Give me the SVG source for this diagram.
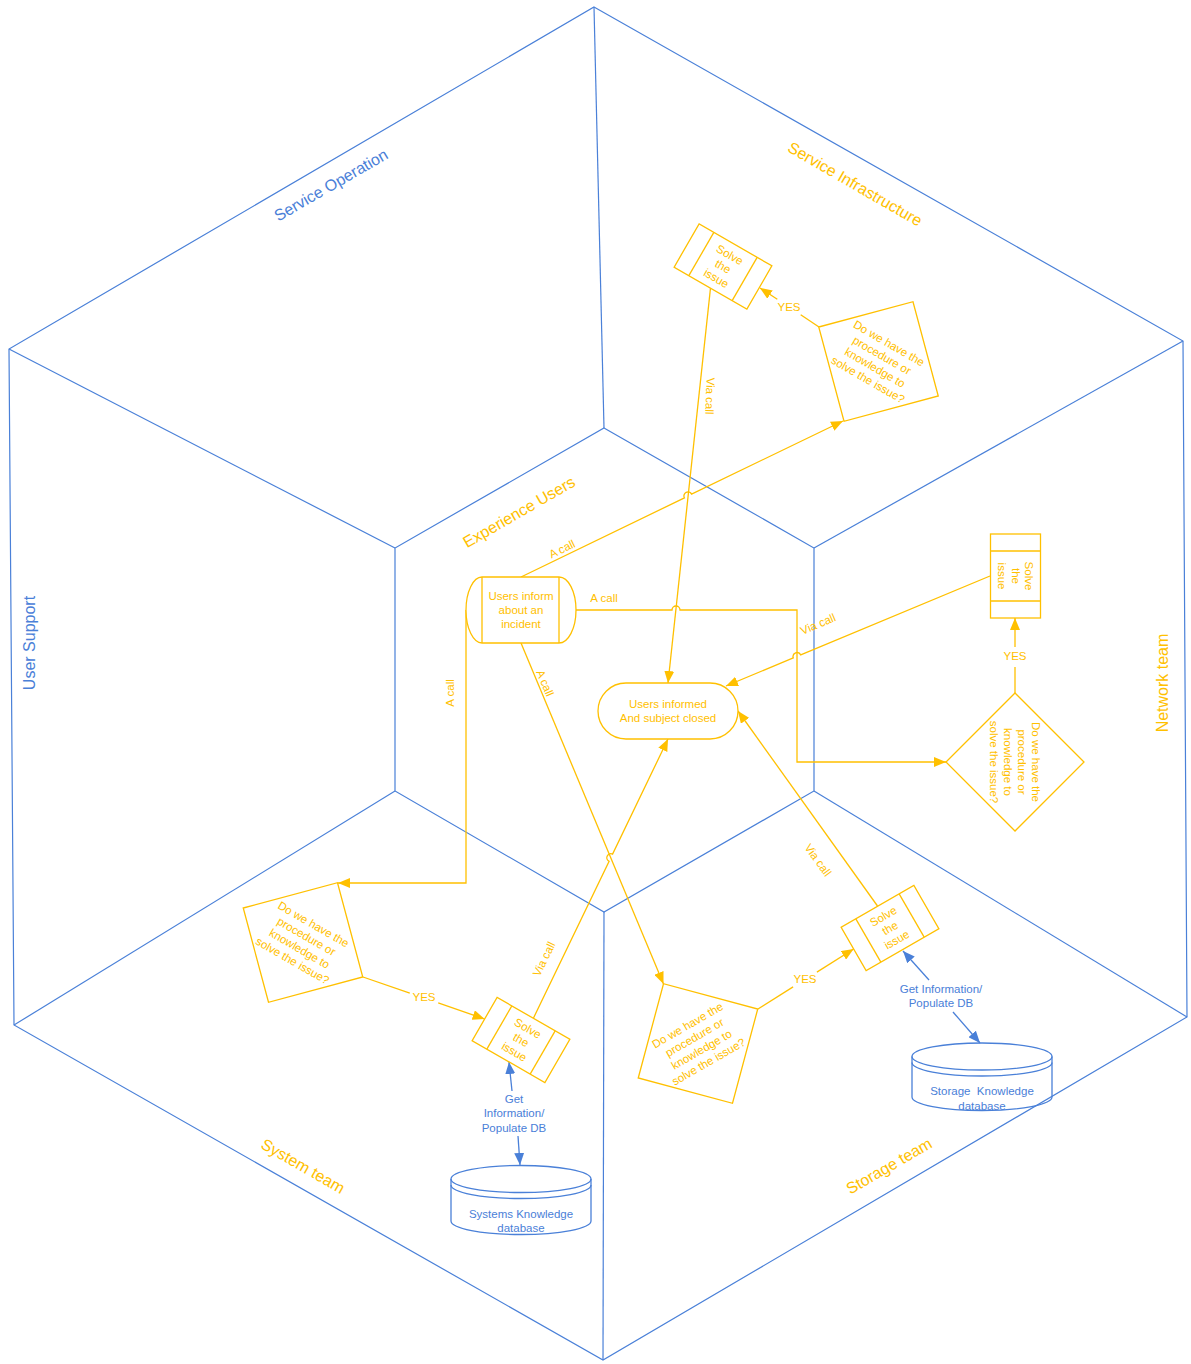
<svg xmlns="http://www.w3.org/2000/svg" width="1191" height="1364" viewBox="0 0 1191 1364">
  <style>
    .hex { fill: none; stroke: #4A80D8; stroke-width: 1.2; }
    .o { fill: none; stroke: #FFC000; stroke-width: 1.3; }
    .b { fill: none; stroke: #4A80D8; stroke-width: 1.3; }
    .shape { fill: #FFFFFF; stroke: #FFC000; stroke-width: 1.3; }
    .db { fill: none; stroke: #4A80D8; stroke-width: 1.3; }
    text { font-family: "Liberation Sans", Arial, sans-serif; text-anchor: middle; }
    .t { font-size: 11.5px; fill: #FFC000; }
    .tb { font-size: 11.5px; fill: #4A80D8; }
    .big { font-size: 16px; fill: #FFC000; }
    .bigb { font-size: 16px; fill: #4A80D8; }
  </style>
  <defs>
    <marker id="arrO" markerUnits="userSpaceOnUse" markerWidth="12" markerHeight="10" refX="12" refY="5" orient="auto">
      <path d="M0,0 L12,5 L0,10 Z" fill="#FFC000"/>
    </marker>
    <marker id="arrB" markerUnits="userSpaceOnUse" markerWidth="12" markerHeight="10" refX="12" refY="5" orient="auto">
      <path d="M0,0 L12,5 L0,10 Z" fill="#4A80D8"/>
    </marker>
    <!-- process box: two side bars -->
    <g id="solve">
      <rect x="-42" y="-25" width="84" height="50" class="shape"/>
      <line x1="-25" y1="-25" x2="-25" y2="25" class="o"/>
      <line x1="25" y1="-25" x2="25" y2="25" class="o"/>
    </g>
    <polygon id="dec" points="-69,0 0,-69 69,0 0,69" class="shape"/>
  </defs>

  <!-- hexagonal frame -->
  <g id="frame">
    <polygon class="hex" points="594,7 1183,341 1187,1017 603,1360 14,1025 9,349"/>
    <polygon class="hex" points="604,428 814,548 814,791 604,912 395,791 395,548"/>
    <line class="hex" x1="594" y1="7" x2="604" y2="428"/>
    <line class="hex" x1="1183" y1="341" x2="814" y2="548"/>
    <line class="hex" x1="1187" y1="1017" x2="814" y2="791"/>
    <line class="hex" x1="603" y1="1360" x2="604" y2="912"/>
    <line class="hex" x1="14" y1="1025" x2="395" y2="791"/>
    <line class="hex" x1="9" y1="349" x2="395" y2="548"/>
  </g>

  <!-- area titles -->
  <g id="titles">
    <text class="bigb" transform="translate(331,185) rotate(-30)" y="5.5">Service Operation</text>
    <text class="big" transform="translate(855,184) rotate(30)" y="5.5">Service Infrastructure</text>
    <text class="bigb" transform="translate(29,643) rotate(-90)" y="5.5">User Support</text>
    <text class="big" transform="translate(1162,683) rotate(-90)" y="5.5">Network team</text>
    <text class="big" transform="translate(519,512) rotate(-30)" y="5.5">Experience Users</text>
    <text class="big" transform="translate(303,1166) rotate(30)" y="5.5">System team</text>
    <text class="big" transform="translate(889,1166) rotate(-30)" y="5.5">Storage team</text>
  </g>

  <!-- connectors -->
  <g id="connectors">
    <!-- A call to Service Infrastructure -->
    <path class="o" marker-end="url(#arrO)" d="M521,577 L684.4,497.9 A4 4 0 0 1 691.6,494.1 L843,421"/>
    <!-- A call to Network team -->
    <path class="o" marker-end="url(#arrO)" d="M576,610 L672,610 A4 4 0 0 1 680,610 L797,610 L797,762 L946,762"/>
    <!-- A call to System team -->
    <path class="o" marker-end="url(#arrO)" d="M466,610 L466,883 L338,883"/>
    <!-- A call to Storage team -->
    <path class="o" marker-end="url(#arrO)" d="M521,643 L663.5,984"/>
    <!-- Via call: Service Infrastructure -->
    <path class="o" marker-end="url(#arrO)" d="M710.5,288 L668,683"/>
    <!-- Via call: Network team -->
    <path class="o" marker-end="url(#arrO)" d="M990,576 L800.7,654.9 A4 4 0 0 0 793.3,657.9 L726,686"/>
    <!-- Via call: Storage team -->
    <path class="o" marker-end="url(#arrO)" d="M877.5,906 L738,711"/>
    <!-- Via call: System team -->
    <path class="o" marker-end="url(#arrO)" d="M533.5,1018 L609.1,861.3 A4 4 0 0 1 612.6,854.1 L668,739"/>
    <!-- YES branches -->
    <path class="o" d="M819,327 L800.7,314.7"/>
    <path class="o" marker-end="url(#arrO)" d="M777.3,299.3 L760,288"/>
    <path class="o" d="M1015,693 L1015,667"/>
    <path class="o" marker-end="url(#arrO)" d="M1015,647 L1015,618"/>
    <path class="o" d="M363,977 L409.8,993.1"/>
    <path class="o" marker-end="url(#arrO)" d="M438.2,1002.9 L484.6,1019"/>
    <path class="o" d="M758,1009 L793.1,986.9"/>
    <path class="o" marker-end="url(#arrO)" d="M816.9,972.1 L853.6,949"/>
    <!-- knowledge base links -->
    <path class="b" marker-end="url(#arrB)" d="M512,1091 L509,1062"/>
    <path class="b" marker-end="url(#arrB)" d="M518,1136 L520,1165"/>
    <path class="b" marker-end="url(#arrB)" d="M929,980 L903,951"/>
    <path class="b" marker-end="url(#arrB)" d="M953,1012 L980,1043"/>

    <!-- connector labels -->
    <text class="t" transform="translate(562,549) rotate(-26)" y="4">A call</text>
    <text class="t" x="604" y="602">A call</text>
    <text class="t" transform="translate(450,693) rotate(-90)" y="4">A call</text>
    <text class="t" transform="translate(545,683) rotate(67)" y="4">A call</text>
    <text class="t" transform="translate(710,396) rotate(92)" y="4">Via call</text>
    <text class="t" transform="translate(818,624) rotate(-23)" y="4">Via call</text>
    <text class="t" transform="translate(818,860) rotate(54)" y="4">Via call</text>
    <text class="t" transform="translate(544,959) rotate(-64)" y="4">Via call</text>
    <text class="t" x="789" y="311">YES</text>
    <text class="t" x="1015" y="660">YES</text>
    <text class="t" x="424" y="1001">YES</text>
    <text class="t" x="805" y="983">YES</text>
    <text class="tb" x="514" y="1103">Get</text>
    <text class="tb" x="514" y="1117">Information/</text>
    <text class="tb" x="514" y="1132">Populate DB</text>
    <text class="tb" x="941" y="993">Get Information/</text>
    <text class="tb" x="941" y="1007">Populate DB</text>
  </g>

  <!-- start node -->
  <g id="users-inform">
    <path class="shape" d="M482,577 L559,577 A17 33 0 0 1 559,643 L482,643 A16 33 0 0 1 482,577 Z"/>
    <line class="o" x1="482" y1="577" x2="482" y2="643"/>
    <line class="o" x1="559" y1="577" x2="559" y2="643"/>
    <text class="t" x="521" y="600">Users inform</text>
    <text class="t" x="521" y="614">about an</text>
    <text class="t" x="521" y="628">incident</text>
  </g>

  <!-- end node -->
  <g id="users-informed">
    <rect class="shape" x="598" y="683" width="140" height="56" rx="28" ry="28"/>
    <text class="t" x="668" y="708">Users informed</text>
    <text class="t" x="668" y="722">And subject closed</text>
  </g>

  <!-- Service Infrastructure -->
  <g id="si-decision" transform="translate(878.5,361.5) rotate(30)">
    <use href="#dec"/>
    <text class="t" y="-17">Do we have the</text>
    <text class="t" y="-3">procedure or</text>
    <text class="t" y="11">knowledge to</text>
    <text class="t" y="25">solve the issue?</text>
  </g>
  <g id="si-solve" transform="translate(723,266.5) rotate(30)">
    <use href="#solve"/>
    <text class="t" y="-9.5">Solve</text>
    <text class="t" y="4">the</text>
    <text class="t" y="17.5">issue</text>
  </g>

  <!-- Network team -->
  <g id="net-decision" transform="translate(1015,762) rotate(90)">
    <use href="#dec"/>
    <text class="t" y="-17">Do we have the</text>
    <text class="t" y="-3">procedure or</text>
    <text class="t" y="11">knowledge to</text>
    <text class="t" y="25">solve the issue?</text>
  </g>
  <g id="net-solve" transform="translate(1015.5,576) rotate(90)">
    <use href="#solve"/>
    <text class="t" y="-9.5">Solve</text>
    <text class="t" y="4">the</text>
    <text class="t" y="17.5">issue</text>
  </g>

  <!-- System team -->
  <g id="sys-decision" transform="translate(303,942.5) rotate(30)">
    <use href="#dec"/>
    <text class="t" y="-17">Do we have the</text>
    <text class="t" y="-3">procedure or</text>
    <text class="t" y="11">knowledge to</text>
    <text class="t" y="25">solve the issue?</text>
  </g>
  <g id="sys-solve" transform="translate(521,1040) rotate(30)">
    <use href="#solve"/>
    <text class="t" y="-9.5">Solve</text>
    <text class="t" y="4">the</text>
    <text class="t" y="17.5">issue</text>
  </g>
  <g id="sys-db">
    <path class="db" d="M451,1179 L451,1221 A70 13.5 0 0 0 591,1221 L591,1179"/>
    <ellipse class="db" cx="521" cy="1179" rx="70" ry="13.5"/>
    <path class="b" d="M451,1185 A70 13.5 0 0 0 591,1185"/>
    <text class="tb" x="521" y="1218">Systems Knowledge</text>
    <text class="tb" x="521" y="1232">database</text>
  </g>

  <!-- Storage team -->
  <g id="sto-decision" transform="translate(698,1043.5) rotate(-30)">
    <use href="#dec"/>
    <text class="t" y="-17">Do we have the</text>
    <text class="t" y="-3">procedure or</text>
    <text class="t" y="11">knowledge to</text>
    <text class="t" y="25">solve the issue?</text>
  </g>
  <g id="sto-solve" transform="translate(890,928) rotate(-30)">
    <use href="#solve"/>
    <text class="t" y="-9.5">Solve</text>
    <text class="t" y="4">the</text>
    <text class="t" y="17.5">issue</text>
  </g>
  <g id="sto-db">
    <path class="db" d="M912,1056.5 L912,1097 A70 13.5 0 0 0 1052,1097 L1052,1056.5"/>
    <ellipse class="db" cx="982" cy="1056.5" rx="70" ry="13.5"/>
    <path class="b" d="M912,1062.5 A70 13.5 0 0 0 1052,1062.5"/>
    <text class="tb" x="982" y="1095" xml:space="preserve">Storage  Knowledge</text>
    <text class="tb" x="982" y="1110">database</text>
  </g>
</svg>
